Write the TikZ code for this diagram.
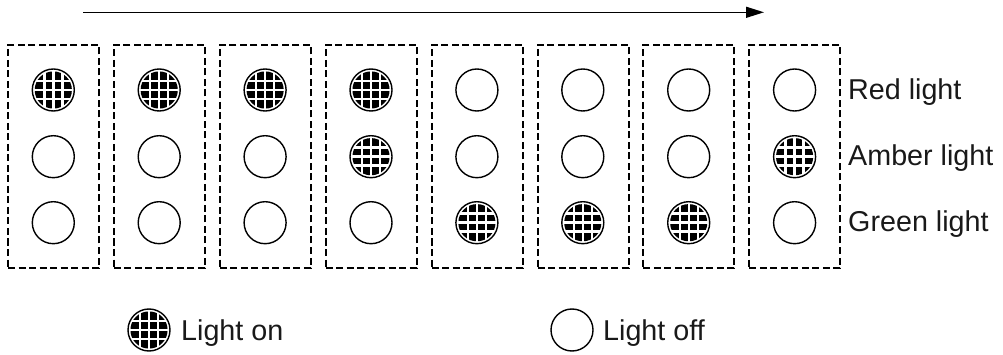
\documentclass[tikz,border=0pt]{standalone}
\usepackage{fontspec}
\setmainfont{Liberation Sans}
\usetikzlibrary{arrows.meta,calc}
\tikzset{
  lightoff/.style={circle, draw=black, line width=1.4pt, minimum size=42pt, inner sep=0pt, fill=white},
  lighton/.style={lightoff, path picture={
      \fill[black] (path picture bounding box.center) circle (18.6pt);
      \foreach \d in {-9,0,9}{
        \draw[white, line width=2.4pt] ($(path picture bounding box.center)+(\d,-25)$) -- ++(0,50);
        \draw[white, line width=2.4pt] ($(path picture bounding box.center)+(-25,\d)$) -- ++(50,0);
      }
  }},
  frame/.style={draw=black, dash pattern=on 7pt off 3.5pt, line width=2pt, minimum width=91pt, minimum height=223pt, inner sep=0pt},
  lbl/.style={anchor=base west, inner sep=0pt, font=\fontsize{28.7pt}{32pt}\selectfont, text=black!90}
}
\begin{document}
\begin{tikzpicture}[x=1pt,y=-1pt]
\useasboundingbox (0,0) rectangle (1003,355);
% arrow
\coordinate (as) at (83,12.3);
\coordinate (ae) at (764,12.3);
\draw[line width=1.4pt, -{Triangle[length=18pt,width=11pt]}] (as) -- (ae);
% frames and lights
\foreach \i/\r/\a/\g in {0/lighton/lightoff/lightoff, 1/lighton/lightoff/lightoff, 2/lighton/lightoff/lightoff, 3/lighton/lighton/lightoff, 4/lightoff/lightoff/lighton, 5/lightoff/lightoff/lighton, 6/lightoff/lightoff/lighton, 7/lightoff/lighton/lightoff}{
  \node[frame] (box\i) at ({53.5+105.9*\i},156.5) {};
  \node[\r] (red\i) at ({53.3+105.9*\i},90) {};
  \node[\a] (amb\i) at ({53.3+105.9*\i},156.7) {};
  \node[\g] (grn\i) at ({53.3+105.9*\i},222.7) {};
}
% labels
\node[lbl] (tred) at (848,100) {Red light};
\node[lbl] (tamb) at (848,166) {Amber light};
\node[lbl] (tgrn) at (848,232) {Green light};
% legend
\node[lighton] (legon) at (149,330) {};
\node[lbl] (tlegon) at (181,340) {Light on};
\node[lightoff] (legoff) at (572,330) {};
\node[lbl] (tlegoff) at (603,340) {Light off};
\end{tikzpicture}
\end{document}
